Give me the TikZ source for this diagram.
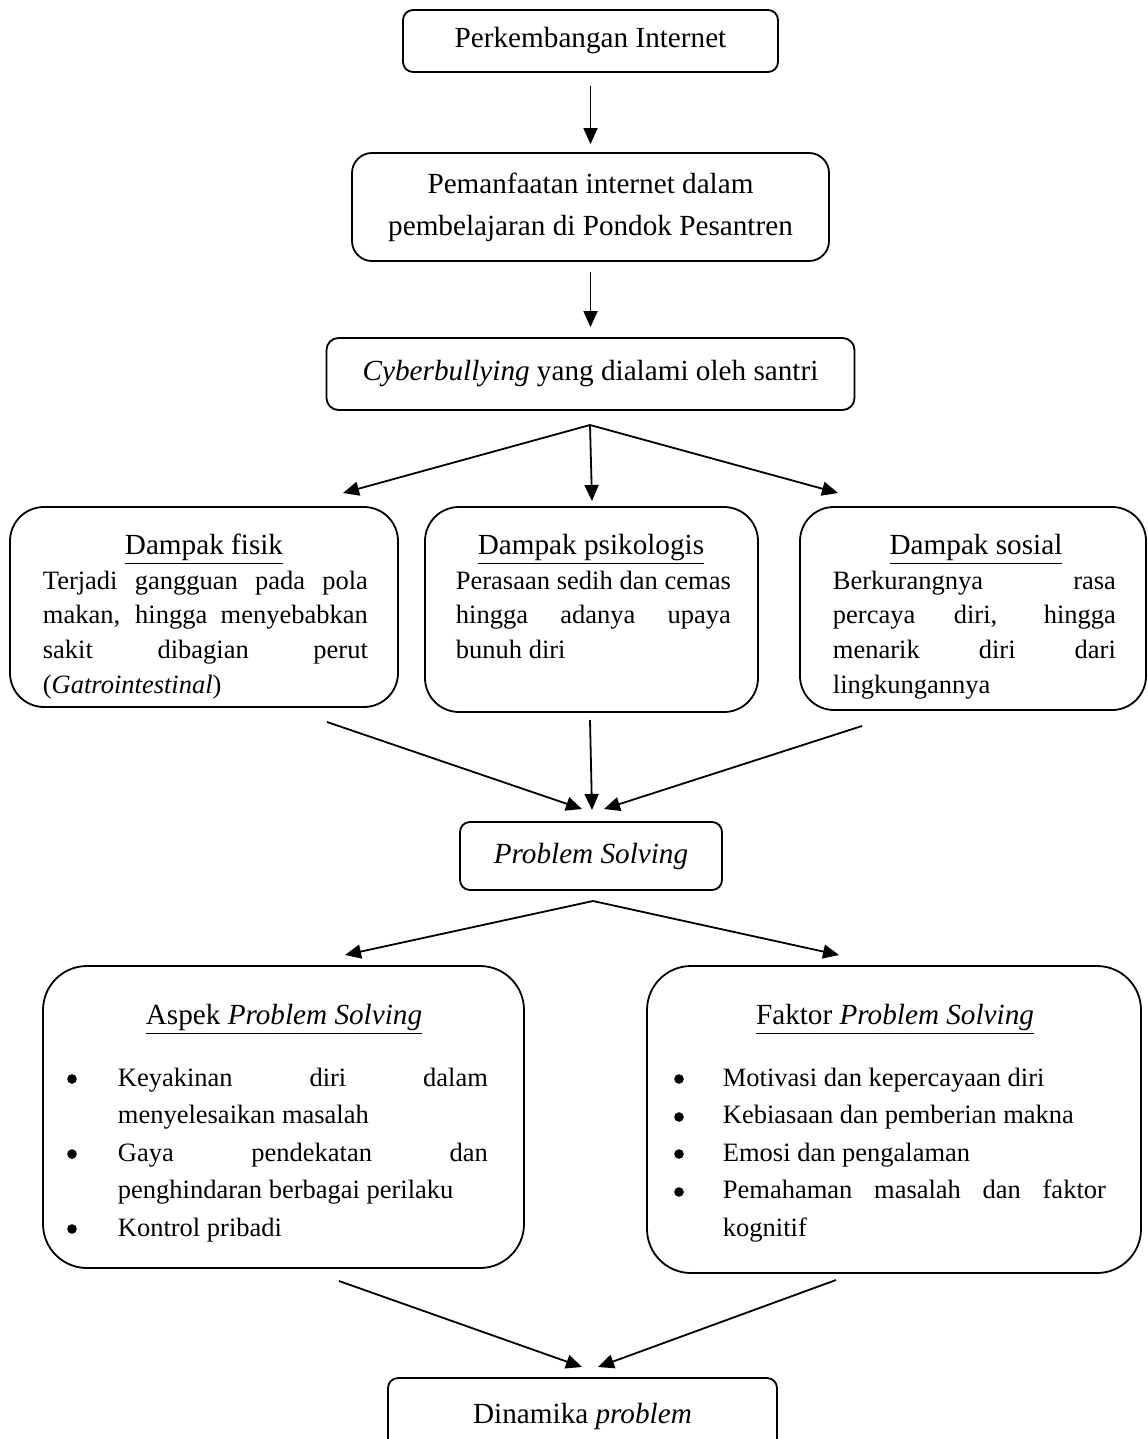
\documentclass[tikz,border=0pt]{standalone}
\usepackage{fontspec}
\setmainfont{Liberation Serif}
\usetikzlibrary{arrows.meta}
\setlength{\parindent}{0pt}
\newcommand{\boxfont}{\fontsize{14.6}{17}\selectfont}
\newcommand{\bodyfont}{\fontsize{13.25}{17.35}\selectfont\tolerance=10000}
\newcommand{\listfont}{\fontsize{13.25}{18.75}\selectfont\tolerance=10000}
\begin{document}
\begin{tikzpicture}[x=0.5pt,y=-0.5pt,line width=0.9pt]
  \tikzstyle{box}=[draw, rounded corners=5pt, inner sep=0pt, align=center, font=\boxfont]
  \tikzstyle{bigbox}=[draw, rounded corners=17pt, inner sep=0pt]
  \tikzstyle{boxtitle}=[font=\boxfont, inner sep=0pt, anchor=base]
  \tikzstyle{body}=[font=\bodyfont, inner sep=0pt, anchor=north west, align=justify]
  \tikzstyle{listbody}=[font=\listfont, inner sep=0pt, anchor=north west, align=justify]
  \tikzstyle{listdot}=[circle, fill=black, inner sep=0pt, minimum size=4.8pt]
  \tikzstyle{line} = [draw, -{Triangle[length=8pt,width=7pt]}]
  \useasboundingbox (0,0) rectangle (1147,1439);
  % top chain
  \node[box, minimum width=187.5pt, minimum height=31pt] (internet) at (590.5,41) {Perkembangan Internet};
  \node[box, rounded corners=10pt, minimum width=238.5pt, minimum height=54pt] (manfaat) at (590.5,207)
    {Pemanfaatan internet dalam\\[4pt] pembelajaran di Pondok Pesantren};
  \node[box, rounded corners=6pt, minimum width=264pt, minimum height=36pt] (cyber) at (590.5,374)
    {\textit{Cyberbullying} yang dialami oleh santri};
  \draw[line, shorten <=6.5pt, shorten >=4pt] (internet) -- (manfaat);
  \draw[line, shorten <=5pt, shorten >=5pt] (manfaat) -- (cyber);
  % dampak
  \node[bigbox, minimum width=194pt, minimum height=100pt] (fisik) at (204,607) {};
  \node[boxtitle] (fisiktitle) at (204,554) {\underline{Dampak fisik}};
  \node[body, text width=162.5pt] (fisikbody) at (42,564)
    {\strut Terjadi gangguan pada pola\linebreak makan, hingga menyebabkan\linebreak sakit dibagian perut\linebreak (\textit{Gatrointestinal})};
  \node[bigbox, minimum width=166.5pt, minimum height=102.5pt] (psiko) at (591.5,609.5) {};
  \node[boxtitle] (psikotitle) at (591,554) {\underline{Dampak psikologis}};
  \node[body, text width=137.5pt] (psikobody) at (455,564)
    {\strut Perasaan sedih dan cemas\linebreak hingga adanya upaya\linebreak bunuh diri};
  \node[bigbox, minimum width=173pt, minimum height=101.5pt] (sosial) at (973,608.5) {};
  \node[boxtitle] (sosialtitle) at (976,554) {\underline{Dampak sosial}};
  \node[body, text width=141.5pt] (sosialbody) at (832,564)
    {\strut Berkurangnya rasa\linebreak percaya diri, hingga\linebreak menarik diri dari\linebreak lingkungannya};
  \coordinate (cyberfan) at (590,425);
  \coordinate (fisikin) at (343,493);
  \coordinate (psikoin) at (592,501);
  \coordinate (sosialin) at (838,493);
  \draw[line] (cyberfan) -- (fisikin);
  \draw[line] (cyberfan) -- (psikoin);
  \draw[line] (cyberfan) -- (sosialin);
  % problem solving
  \node[box, minimum width=131pt, minimum height=34pt] (solve) at (591,856) {\textit{Problem Solving}};
  \coordinate (fisikout) at (327,722);
  \coordinate (psikoout) at (590,720);
  \coordinate (sosialout) at (862,726);
  \coordinate (solveinl) at (582,809);
  \coordinate (solveinm) at (592,810);
  \coordinate (solveinr) at (604,809);
  \draw[line] (fisikout) -- (solveinl);
  \draw[line] (psikoout) -- (solveinm);
  \draw[line] (sosialout) -- (solveinr);
  % aspek dan faktor
  \node[bigbox, rounded corners=22pt, minimum width=240.5pt, minimum height=151pt] (aspek) at (283.5,1117) {};
  \node[boxtitle] (aspektitle) at (284,1024.6) {\underline{Aspek \textit{Problem Solving}}};
  \node[listbody, text width=185pt] (aspeklist) at (117,1059)
    {\strut Keyakinan diri dalam\linebreak menyelesaikan masalah\par
     Gaya pendekatan dan\linebreak penghindaran berbagai perilaku\par
     Kontrol pribadi};
  \foreach \y in {1079,1154,1229}
    \node[listdot] at (72,\y) {};
  \node[bigbox, rounded corners=22pt, minimum width=247pt, minimum height=153.5pt] (faktor) at (894,1119.5) {};
  \node[boxtitle] (faktortitle) at (895,1024.6) {\underline{Faktor \textit{Problem Solving}}};
  \node[listbody, text width=191.5pt] (faktorlist) at (722,1059)
    {\strut Motivasi dan kepercayaan diri\par
     Kebiasaan dan pemberian makna\par
     Emosi dan pengalaman\par
     Pemahaman masalah dan faktor\linebreak kognitif};
  \foreach \y in {1079,1117,1154,1192}
    \node[listdot] at (679,\y) {};
  \coordinate (solvefan) at (593,901);
  \coordinate (aspekin) at (345,955);
  \coordinate (faktorin) at (839,955);
  \draw[line] (solvefan) -- (aspekin);
  \draw[line] (solvefan) -- (faktorin);
  % dinamika
  \node[box, minimum width=194.5pt, minimum height=38pt] (dinamika) at (582.5,1416) {Dinamika \textit{problem}};
  \coordinate (aspekout) at (339,1281);
  \coordinate (faktorout) at (836,1280);
  \coordinate (dinamikainl) at (582,1367);
  \coordinate (dinamikainr) at (598,1367);
  \draw[line] (aspekout) -- (dinamikainl);
  \draw[line] (faktorout) -- (dinamikainr);
\end{tikzpicture}
\end{document}
